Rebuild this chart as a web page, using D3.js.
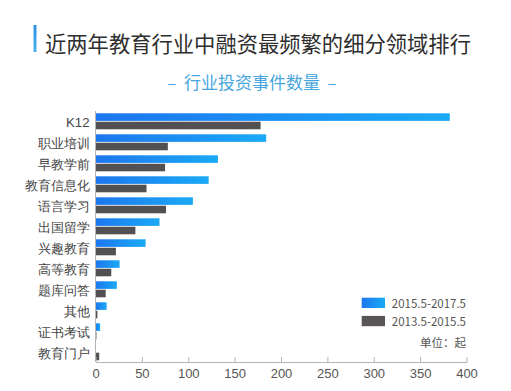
<!DOCTYPE html>
<html><head><meta charset="utf-8">
<script src="https://cdn.jsdelivr.net/npm/d3@7/dist/d3.min.js"></script>
<style>
html,body{margin:0;padding:0;background:#fff;}
svg{display:block;font-family:"Noto Sans CJK SC","Noto Sans",sans-serif;}
</style></head>
<body><svg id="c" width="511" height="391"></svg>
<script>
const categories = ["K12","职业培训","早教学前","教育信息化","语言学习","出国留学","兴趣教育","高等教育","题库问答","其他","证书考试","教育门户"];
const series2017 = [382,184,132,122,105,69,54,26,23,12,5,0];
const series2015 = [178,78,75,55,76,43,22,17,11,2,1,4];
const seriesNames = ["2015.5-2017.5","2013.5-2015.5"];
const xTicks = [0,50,100,150,200,250,300,350,400];
const titleText = "近两年教育行业中融资最频繁的细分领域排行";
const subtitleText = "–\u00a0\u00a0行业投资事件数量\u00a0\u00a0–";
const unitText = "单位：起";

const svg = d3.select("#c");
const defs = svg.append("defs");
const g1 = defs.append("linearGradient").attr("id","blueGrad").attr("x1","0").attr("x2","1").attr("y1","0").attr("y2","0");
g1.append("stop").attr("offset","0").attr("stop-color","#1c76ee");
g1.append("stop").attr("offset","1").attr("stop-color","#1aaaf6");
const g2 = defs.append("linearGradient").attr("id","titleGrad").attr("x1","0").attr("x2","0").attr("y1","0").attr("y2","1");
g2.append("stop").attr("offset","0").attr("stop-color","#2b8fe6");
g2.append("stop").attr("offset","1").attr("stop-color","#4fb3ea");

// title
svg.append("rect").attr("x",33.5).attr("y",25).attr("width",3).attr("height",27).attr("fill","url(#titleGrad)");
svg.append("text").attr("x",45).attr("y",42.5).attr("dominant-baseline","central")
  .attr("font-size",21.3).attr("fill","#2e2e2e").text(titleText);
svg.append("text").attr("x",252).attr("y",81.5).attr("dominant-baseline","central").attr("text-anchor","middle")
  .attr("font-size",17).attr("fill","#47a5dd").text(subtitleText);

const x = d3.scaleLinear().domain([0,400]).range([95.5,466.5]);
const y = d3.scaleBand().domain(categories).range([110.8,362.8]).paddingInner(0.238).paddingOuter(0.119);
const ys = d3.scaleBand().domain(seriesNames).range([0,y.bandwidth()]).paddingInner(0.1);
const colors = ["url(#blueGrad)","#525052"];
const data = categories.map((c,i)=>({c, v:[series2017[i],series2015[i]]}));

const grp = svg.append("g").selectAll("g").data(data).join("g")
  .attr("transform",d=>`translate(0,${y(d.c)})`);
grp.selectAll("rect").data(d=>d.v.map((v,k)=>({v,k}))).join("rect")
  .attr("x",x(0)).attr("y",d=>ys(seriesNames[d.k]))
  .attr("width",d=>x(d.v)-x(0)).attr("height",ys.bandwidth())
  .attr("fill",d=>colors[d.k]);

// y axis
const yAxis = svg.append("g").attr("transform",`translate(${x(0)},0)`)
  .call(d3.axisLeft(y).tickSize(0).tickPadding(6));
yAxis.select(".domain").attr("stroke","#b5b5b5").attr("d",`M0,111V362`);
yAxis.selectAll("text").attr("font-size",13.2).attr("fill","#444").attr("dy","0.45em");

// x axis
const xAxis = svg.append("g").attr("transform","translate(0,362)")
  .call(d3.axisBottom(x).tickValues(xTicks).tickSize(0).tickPadding(7));
xAxis.select(".domain").attr("stroke","#b5b5b5");
xAxis.selectAll(".tick line").attr("y2",-5).attr("stroke","#b5b5b5");
xAxis.selectAll("text").attr("font-size",13).attr("fill","#555");

// legend
const leg = svg.append("g");
seriesNames.forEach((n,k)=>{
  const yy = 297.7 + k*18.2;
  leg.append("rect").attr("x",361.7).attr("y",yy).attr("width",23.3).attr("height",10.3).attr("fill",k===0?colors[k]:"#595557");
  leg.append("text").attr("x",466).attr("y",yy+5.2).attr("text-anchor","end").attr("dominant-baseline","central")
    .attr("font-size",11.5).attr("fill","#555").text(n);
});
svg.append("text").attr("x",466).attr("y",342.3).attr("text-anchor","end").attr("dominant-baseline","central")
  .attr("font-size",11.5).attr("fill","#555").text(unitText);
</script></body></html>
